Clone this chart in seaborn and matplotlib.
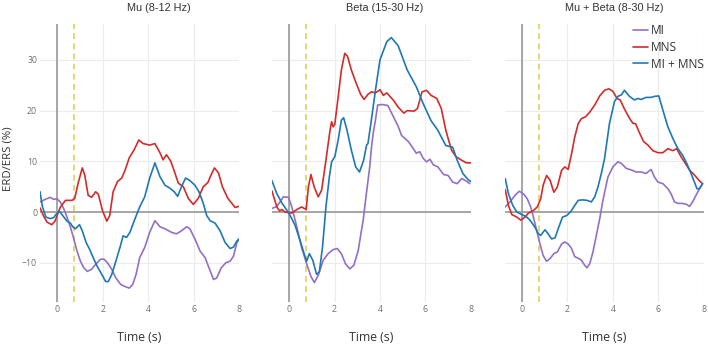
import pandas as pd
import matplotlib as mpl
mpl.use('Agg')
import seaborn as sns
import matplotlib.pyplot as plt

sns.set_style('white')
plt.rcParams['font.family'] = ['Open Sans', 'DejaVu Sans']

band_titles = ['Mu (8-12 Hz)', 'Beta (15-30 Hz)', 'Mu + Beta (8-30 Hz)']
conditions = ['MI', 'MNS', 'MI + MNS']
x_ticks = [0, 2, 4, 6, 8]
y_ticks = [-10, 0, 10, 20, 30]
stim_onset = 0.75

# Mu band
mu_mi_t = [-0.76, -0.53, -0.31, -0.16, -0.01, 0.13, 0.28, 0.43, 0.58, 0.73, 0.87, 1.02, 1.17, 1.32,
           1.51, 1.69, 1.91, 2.06, 2.21, 2.4, 2.58, 2.8, 2.99, 3.17, 3.32, 3.47, 3.63, 3.85, 4.07,
           4.3, 4.52, 4.74, 5.03, 5.25, 5.47, 5.7, 5.84, 6.06, 6.29, 6.51, 6.68, 6.88, 7.02, 7.22,
           7.42, 7.61, 7.76, 7.91, 8.0]
mu_mi_v = [2, 2.5, 2.9, 2.5, 2.6, 2, 0.7, -1, -3, -5.3, -7.7, -9.7, -11, -11.7,
           -11.3, -10.3, -9.3, -9.3, -10, -11.3, -13, -14.3, -14.7, -15, -14.3, -12.3, -9, -7, -4,
           -1.7, -2.9, -3.3, -4, -4.3, -3.7, -2.9, -3.3, -5.3, -7.7, -9, -11, -13.3, -13, -11,
           -10, -9.7, -8.7, -6, -5.5]
mu_mns_t = [-0.76, -0.6, -0.45, -0.24, -0.1, 0.13, 0.36, 0.65, 0.77, 0.92, 1.1, 1.21, 1.36, 1.51,
            1.69, 1.81, 1.99, 2.18, 2.31, 2.46, 2.65, 2.84, 2.99, 3.17, 3.39, 3.59, 3.78, 4.07,
            4.3, 4.52, 4.66, 4.81, 5.0, 5.18, 5.33, 5.55, 5.77, 5.99, 6.21, 6.43, 6.63, 6.77,
            6.92, 7.1, 7.27, 7.51, 7.69, 7.83, 7.98]
mu_mns_v = [0.8, -0.8, -2, -2.5, -1.8, 0.9, 2.3, 2.3, 2.7, 5.7, 8.7, 7.3, 3.3, 2.9,
            4, 3.5, 0.3, -1.8, -0.7, 4, 6, 6.7, 8.3, 10.7, 12.3, 14.2, 13.5, 13.2,
            13.5, 11.7, 10.3, 11.3, 10, 7.7, 5.7, 5, 2.7, 1.5, 2.7, 5, 5.8, 7.3,
            8.7, 7.7, 5, 2.7, 1.7, 0.9, 1.1]
mu_both_t = [-0.76, -0.65, -0.5, -0.31, -0.16, -0.06, 0.09, 0.24, 0.43, 0.58, 0.68, 0.8, 0.98, 1.1,
             1.27, 1.42, 1.61, 1.76, 1.96, 2.13, 2.25, 2.4, 2.58, 2.76, 2.9, 3.05, 3.2, 3.39,
             3.63, 3.85, 4.07, 4.3, 4.52, 4.74, 4.96, 5.15, 5.3, 5.47, 5.65, 5.84, 6.06, 6.24,
             6.43, 6.58, 6.73, 6.95, 7.17, 7.39, 7.61, 7.76, 7.91, 8.0]
mu_both_v = [4, 1, -1, -1.3, -1.1, -0.5, 0.2, -0.7, -1.8, -2.2, -2.9, -3.3, -2.5, -3.7,
             -6, -7.3, -9.3, -10.7, -12.3, -13.7, -13.7, -12.3, -9.7, -7, -4.7, -5, -4, -1.7,
             1, 3, 6.7, 9.7, 7, 5.3, 4.7, 4, 3.1, 5, 6.7, 6.2, 5.3, 4,
             1.7, -0.7, -1.7, -2.2, -3.7, -6, -7.2, -6.9, -5.7, -5.3]

# Beta band
beta_mi_t = [-0.76, -0.54, -0.25, -0.03, 0.12, 0.34, 0.55, 0.77, 0.96, 1.11, 1.28, 1.5, 1.72, 1.94,
             2.12, 2.3, 2.48, 2.67, 2.85, 3.04, 3.26, 3.4, 3.55, 3.62, 3.7, 3.8, 3.9, 4.1, 4.35,
             4.6, 4.8, 4.95, 5.25, 5.45, 5.6, 5.75, 5.9, 6.05, 6.2, 6.35, 6.55, 6.8, 7.0, 7.2,
             7.4, 7.6, 7.8, 7.95]
beta_mi_v = [0.7, 1.1, 3, 2.9, 1, -3, -7, -10.2, -12.7, -13.9, -12.5, -9.5, -8.2, -7.4,
             -7.2, -8.2, -10.2, -11.2, -10.5, -7.6, -1.6, 3.6, 8.9, 12.5, 15.5, 18.1, 21.1, 21.2, 21,
             18.7, 16.9, 15.1, 13.9, 12.6, 11.6, 11.9, 10.6, 9.9, 10.4, 9.3, 8.9, 7.4, 7.2, 5.9,
             5.6, 6.6, 6.1, 5.6]
beta_mns_t = [-0.76, -0.54, -0.42, -0.32, -0.18, 0.12, 0.34, 0.55, 0.75, 0.85, 0.96, 1.1, 1.28, 1.43,
              1.62, 1.8, 1.87, 1.94, 2.01, 2.16, 2.3, 2.45, 2.57, 2.74, 2.96, 3.15, 3.3, 3.47,
              3.62, 3.8, 4.0, 4.15, 4.3, 4.6, 4.8, 5.05, 5.2, 5.5, 5.65, 5.85, 6.05, 6.25, 6.5,
              6.7, 6.9, 7.15, 7.35, 7.6, 7.8, 8.0]
beta_mns_v = [4.2, 1, 0.2, 0.5, 0, -0.2, 0.5, 1, 0.5, 5, 7.4, 5, 3, 4.3,
              10.2, 16.1, 17.8, 16.8, 17.3, 22.7, 28, 31.3, 30.7, 28, 25.3, 23.2, 22.2, 23.2,
              23.7, 23.5, 24.1, 23, 23.5, 22, 20.7, 19.5, 20, 19.9, 20.4, 23.7, 24, 23, 22.4,
              20.4, 16.1, 12.2, 10.9, 10.2, 9.7, 9.7]
beta_both_t = [-0.76, -0.54, -0.32, 0, 0.26, 0.48, 0.66, 0.77, 0.89, 1.04, 1.21, 1.33, 1.47, 1.62,
               1.77, 1.87, 2.01, 2.16, 2.3, 2.4, 2.55, 2.74, 2.93, 3.1, 3.28, 3.41, 3.47, 3.62,
               3.8, 4.0, 4.3, 4.5, 4.8, 5.2, 5.6, 5.9, 6.25, 6.55, 6.9, 7.2, 7.4, 7.65, 7.9, 8.0]
beta_both_v = [6.2, 3.6, 1.8, -0.3, -2.6, -5.6, -8.2, -9.7, -8.2, -9.5, -12.3, -11.8, -6.9, 1,
               6.9, 9.9, 10.9, 14.2, 18.1, 18.6, 16.1, 12.2, 8.9, 7.9, 10.2, 13.2, 13.5, 18.1,
               24, 30, 33.6, 34.4, 32.8, 28, 24.7, 21.4, 18, 16.1, 13.1, 12.8, 10.2, 7.6, 6.3, 6]

# Mu + Beta band
mb_mi_t = [-0.74, -0.53, -0.31, -0.12, 0.06, 0.23, 0.38, 0.5, 0.64, 0.79, 0.93, 1.08, 1.23, 1.4,
           1.55, 1.74, 1.88, 2.03, 2.18, 2.32, 2.51, 2.61, 2.76, 2.86, 2.98, 3.12, 3.27, 3.42,
           3.56, 3.78, 4.0, 4.22, 4.37, 4.59, 4.81, 5.02, 5.24, 5.46, 5.68, 5.83, 5.98, 6.2,
           6.42, 6.56, 6.71, 6.86, 7.07, 7.25, 7.37, 7.51, 7.66, 7.81, 7.95]
mb_mi_v = [1, 2, 3.3, 4.1, 3.6, 2.6, 1, -1, -3.6, -6.3, -8.6, -9.7, -9.2, -8.2,
           -7.9, -6.3, -5.9, -6.3, -7.2, -8.8, -9.2, -9.5, -10.5, -11, -10.2, -7.9, -4.6, -1.3,
           2.3, 6.9, 8.9, 9.9, 9.6, 8.6, 8.3, 7.9, 7.9, 7.6, 8.4, 6.9, 5.9, 5.6,
           4.6, 3.6, 2, 1.7, 1.7, 1.5, 1.1, 2, 3.3, 4.6, 5.6]
mb_mns_t = [-0.74, -0.6, -0.45, -0.23, -0.06, 0.13, 0.28, 0.5, 0.67, 0.82, 0.93, 1.08, 1.23, 1.4,
            1.55, 1.74, 1.88, 2.03, 2.18, 2.32, 2.47, 2.61, 2.8, 2.98, 3.2, 3.42, 3.63, 3.82,
            4.0, 4.18, 4.32, 4.51, 4.73, 4.88, 5.0, 5.17, 5.35, 5.54, 5.76, 5.98, 6.2, 6.42,
            6.64, 6.81, 7.0, 7.19, 7.37, 7.59, 7.78, 7.92]
mb_mns_v = [4.4, 1.3, -0.5, -1, -1.6, -1, -0.2, 0.3, 1, 2.6, 5.3, 7.2, 6.3, 3.9,
            4.9, 8.2, 8.9, 8.4, 11.5, 14.8, 17.4, 18.4, 18.8, 19.7, 21.1, 22.9, 24, 24.3,
            23.8, 22.4, 22.1, 20.3, 18.5, 17.5, 17.4, 15.6, 13.9, 13.2, 12.1, 11.7, 11.7, 12.5,
            12.1, 12.5, 10.9, 9.6, 8.3, 7.3, 6.3, 5.7]
mb_both_t = [-0.74, -0.6, -0.41, -0.23, -0.01, 0.18, 0.35, 0.57, 0.72, 0.82, 1.01, 1.15, 1.3, 1.45,
             1.59, 1.78, 1.96, 2.13, 2.32, 2.47, 2.66, 2.86, 3.05, 3.2, 3.34, 3.49, 3.63, 3.85,
             4.07, 4.22, 4.37, 4.51, 4.73, 4.95, 5.1, 5.24, 5.46, 5.68, 5.83, 6.02, 6.2, 6.42,
             6.64, 6.86, 7.07, 7.25, 7.44, 7.59, 7.7, 7.81, 7.95]
mb_both_v = [6.6, 3.6, 1.3, 0, -0.5, -0.9, -1.6, -3, -4.3, -4.6, -3.5, -4.3, -5.3, -5.1,
             -3.3, -1, -0.7, 0, 1.3, 2.3, 2.4, 2.3, 2, 3, 4.9, 7.6, 10.5, 17.5,
             21.8, 22.8, 23.1, 24, 22.8, 22.1, 22.4, 22.2, 22.6, 22.6, 22.8, 22.9, 20.1, 16.8,
             14.5, 12.5, 11.2, 9.6, 7.6, 5.9, 4.6, 4.6, 5.6]

palette = {'MI': '#9370c4', 'MNS': '#d42b2b', 'MI + MNS': '#1f78b4'}


def band_frame(series):
    parts = []
    for cond, (t, v) in zip(conditions, series):
        parts.append(pd.DataFrame({'time': t, 'erd': v, 'cond': cond}))
    return pd.concat(parts, ignore_index=True)


panels = [
    band_frame([(mu_mi_t, mu_mi_v), (mu_mns_t, mu_mns_v), (mu_both_t, mu_both_v)]),
    band_frame([(beta_mi_t, beta_mi_v), (beta_mns_t, beta_mns_v), (beta_both_t, beta_both_v)]),
    band_frame([(mb_mi_t, mb_mi_v), (mb_mns_t, mb_mns_v), (mb_both_t, mb_both_v)]),
]

fig = plt.figure(figsize=(7.08, 3.46), dpi=100)
lefts = [0.0565, 0.384, 0.713]
title_x = [0.2246, 0.5438, 0.867]

for i, (df, left) in enumerate(zip(panels, lefts)):
    ax = fig.add_axes([left, 0.127, 0.281, 0.804])
    ax.axvline(0, color='#999999', lw=1.2, zorder=1)
    ax.axhline(0, color='#999999', lw=1.2, zorder=1)
    ax.axvline(stim_onset, color='#e3d462', lw=1.3, ls=(0, (3.2, 2.4)), zorder=1)

    sns.lineplot(data=df, x='time', y='erd', hue='cond', hue_order=conditions,
                 palette=palette, estimator=None, sort=False, lw=1.2,
                 legend=(i == 2), ax=ax, zorder=3)

    ax.set_xlim(-0.76, 8.0)
    ax.set_ylim(-17.75, 37.1)
    ax.set_xticks(x_ticks)
    ax.set_yticks(y_ticks)
    if i > 0:
        ax.set_yticklabels([])
    ax.grid(True, color='#ececec', lw=0.8)
    ax.set_axisbelow(True)
    sns.despine(ax=ax, left=True, bottom=True)
    ax.tick_params(length=0, labelsize=6.3, labelcolor='#707070', pad=2)

    ax.set_ylabel('')
    ax.set_xlabel('Time (s)', fontsize=8.8, color='#333333')
    ax.xaxis.set_label_coords(0.5, -0.105)
    fig.text(title_x[i], 0.976, band_titles[i], ha='center', va='center',
             fontsize=7.8, family='Liberation Sans', color='#333333')

    if i == 2:
        leg = ax.get_legend()
        handles = leg.legend_handles
        labels = [t.get_text() for t in leg.get_texts()]
        ax.legend(handles, labels, loc='upper right', bbox_to_anchor=(1.0, 1.0),
                  frameon=False, fontsize=8.6, handlelength=1.3, handletextpad=0.2,
                  labelspacing=0.32, borderpad=0, borderaxespad=0,
                  labelcolor='#333333')

fig.text(0.012, 0.54, 'ERD/ERS (%)', rotation=90, ha='center', va='center',
         fontsize=8.2, color='#333333')

fig.savefig('out.png', dpi=100)
plt.close()
